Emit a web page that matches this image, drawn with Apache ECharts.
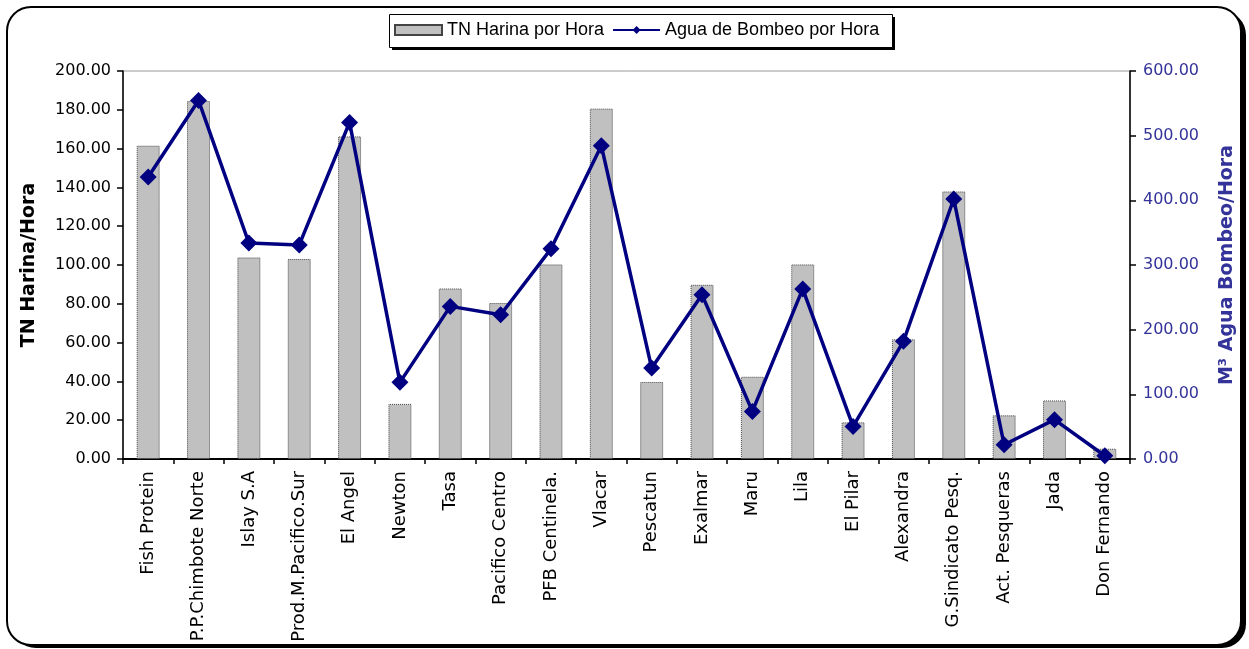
<!DOCTYPE html>
<html>
<head>
<meta charset="utf-8">
<script src="https://cdn.jsdelivr.net/npm/echarts@6/dist/echarts.min.js"></script>
<style>
html,body{margin:0;padding:0;background:#fff;}
#chart{width:1249px;height:649px;}
</style>
</head>
<body>
<div id="chart"></div>
<script>
const categories = ['Fish Protein','P.P.Chimbote Norte','Islay S.A','Prod.M.Pacifico.Sur','El Angel','Newton','Tasa','Pacifico Centro','PFB Centinela.','Vlacar','Pescatun','Exalmar','Maru','Lila','El Pilar','Alexandra','G.Sindicato Pesq.','Act. Pesqueras','Jada','Don Fernando'];
const harinaPorHora = [161.5, 184.5, 103.9, 103.1, 166.3, 28.4, 87.9, 80.4, 100.3, 180.6, 39.7, 89.8, 42.4, 100.3, 18.9, 61.7, 137.9, 22.5, 30.2, 5.3];
const aguaPorHora = [436, 554.5, 334, 331, 520.5, 118.5, 236, 223, 325, 484.5, 140.7, 254, 73.6, 263, 50.4, 181.9, 402, 22, 60.8, 5];
const seriesNames = ['TN Harina por Hora', 'Agua de Bombeo por Hora'];
const axisNames = ['TN Harina/Hora', 'M³ Agua Bombeo/Hora'];

const chart = echarts.init(document.getElementById('chart'), null, {renderer: 'canvas'});
const option = {
  backgroundColor: '#fff',
  animation: false,
  graphic: [{
    type: 'rect', z: -20, silent: true,
    shape: {x: 12, y: 11, width: 1234, height: 637, r: 24},
    style: {fill: '#000'}
  }, {
    type: 'rect', z: -19, silent: true,
    shape: {x: 7, y: 7, width: 1234, height: 638, r: 24},
    style: {fill: '#fff', stroke: '#000', lineWidth: 2}
  }, {
    type: 'rect', z: -18, silent: true,
    shape: {x: 392, y: 17, width: 503, height: 33},
    style: {fill: '#000'}
  }, {
    type: 'rect', z: -17, silent: true,
    shape: {x: 389.5, y: 14.5, width: 503, height: 33},
    style: {fill: '#fff', stroke: '#000', lineWidth: 1}
  }],
  legend: {
    left: 394, top: 21,
    padding: 0,
    itemGap: 8,
    itemWidth: 47, itemHeight: 10,
    textStyle: {fontFamily: 'Liberation Sans', fontSize: 18, color: '#000'},
    data: [{name: seriesNames[0], icon: 'rect'}, {name: seriesNames[1]}]
  },
  grid: {
    left: 123, right: 119, top: 71, bottom: 190,
    show: true, borderColor: '#999', borderWidth: 1, backgroundColor: 'transparent'
  },
  xAxis: {
    type: 'category',
    data: categories,
    axisLine: {lineStyle: {color: '#000', width: 2}},
    axisTick: {show: true, interval: 0, length: 5, lineStyle: {color: '#000', width: 1.5}},
    axisLabel: {interval: 0, rotate: 90, margin: 12, fontFamily: 'DejaVu Sans', fontSize: 18, color: '#000'},
    splitLine: {show: false}
  },
  yAxis: [{
    type: 'value', min: 0, max: 200, interval: 20,
    name: axisNames[0], nameLocation: 'middle', nameGap: 84, nameRotate: 90,
    nameTextStyle: {fontFamily: 'DejaVu Sans', fontWeight: 'bold', fontSize: 19, color: '#000'},
    axisLine: {show: true, lineStyle: {color: '#000', width: 1.5}},
    axisTick: {show: true, length: 6, lineStyle: {color: '#000', width: 1.5}},
    axisLabel: {margin: 12, fontFamily: 'DejaVu Sans', fontSize: 16, color: '#000', formatter: v => v.toFixed(2)},
    splitLine: {show: false}
  }, {
    type: 'value', min: 0, max: 600, interval: 100, position: 'right',
    name: axisNames[1], nameLocation: 'middle', nameGap: 88, nameRotate: 90,
    nameTextStyle: {fontFamily: 'DejaVu Sans', fontWeight: 'bold', fontSize: 19, color: '#333399'},
    axisLine: {show: true, lineStyle: {color: '#000', width: 1.5}},
    axisTick: {show: true, length: 6, lineStyle: {color: '#000', width: 1.5}},
    axisLabel: {margin: 13, fontFamily: 'DejaVu Sans', fontSize: 16, color: '#333399', formatter: v => v.toFixed(2)},
    splitLine: {show: false}
  }],
  series: [{
    name: seriesNames[0],
    type: 'bar',
    yAxisIndex: 0,
    barWidth: 23,
    data: harinaPorHora,
    itemStyle: {color: '#c0c0c0', borderColor: '#444', borderWidth: 1, borderType: 'dotted'}
  }, {
    name: seriesNames[1],
    type: 'line',
    yAxisIndex: 1,
    data: aguaPorHora,
    symbol: 'diamond',
    symbolSize: 17,
    lineStyle: {color: '#000080', width: 3.5},
    itemStyle: {color: '#000080'},
    z: 5
  }]
};
chart.setOption(option);
</script>
</body>
</html>
